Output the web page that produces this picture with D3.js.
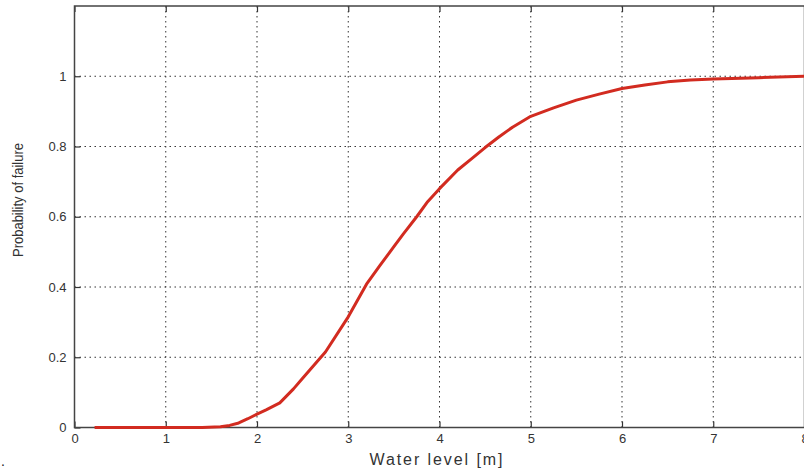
<!DOCTYPE html>
<html>
<head>
<meta charset="utf-8">
<script src="https://cdn.jsdelivr.net/npm/d3@7"></script>
<style>
  body { margin: 0; background: #fff; }
  svg { display: block; font-family: "Liberation Sans", Arial, sans-serif; }
</style>
</head>
<body>
<svg id="chart" width="804" height="470"></svg>
<script>
// data
const waterLevel = [0.22, 0.5, 1.0, 1.4, 1.6, 1.7, 1.8, 1.9, 2.0, 2.1, 2.25, 2.4, 2.5, 2.75, 3.0, 3.2, 3.35, 3.5, 3.6, 3.75, 3.87, 4.0, 4.2, 4.35, 4.5, 4.65, 4.8, 5.0, 5.25, 5.5, 5.75, 6.0, 6.25, 6.5, 6.75, 7.0, 7.5, 8.0];
const probFailure = [0, 0, 0, 0, 0.002, 0.006, 0.013, 0.025, 0.038, 0.05, 0.07, 0.11, 0.14, 0.215, 0.315, 0.408, 0.462, 0.515, 0.55, 0.60, 0.643, 0.68, 0.733, 0.765, 0.797, 0.827, 0.855, 0.886, 0.91, 0.932, 0.949, 0.965, 0.975, 0.984, 0.989, 0.992, 0.996, 1.0];
const xTicks = [0, 1, 2, 3, 4, 5, 6, 7, 8];
const yTicks = [0, 0.2, 0.4, 0.6, 0.8, 1];

const margin = {left: 74.5, top: 6};
const innerWidth = 730;
const innerHeight = 421.5;

document.addEventListener('DOMContentLoaded', function () {
    const svg = d3.select('#chart');
    const g = svg.append('g').attr('transform', 'translate(' + margin.left + ', ' + margin.top + ')');

    const xScale = d3.scaleLinear().domain([0, 8]).range([0, innerWidth]);
    const yScale = d3.scaleLinear().domain([0, 1.2]).range([innerHeight, 0]);

    // dotted grid
    g.selectAll('.vgrid')
        .data(xTicks.filter(d => d > 0 && d < 8))
        .enter()
        .append('line')
        .attr('x1', d => xScale(d)).attr('x2', d => xScale(d))
        .attr('y1', 0).attr('y2', innerHeight)
        .style('stroke', '#333')
        .style('stroke-width', 1)
        .style('stroke-dasharray', '1.5,3.5');

    g.selectAll('.hgrid')
        .data(yTicks.filter(d => d > 0))
        .enter()
        .append('line')
        .attr('x1', 0).attr('x2', innerWidth)
        .attr('y1', d => yScale(d)).attr('y2', d => yScale(d))
        .style('stroke', '#333')
        .style('stroke-width', 1)
        .style('stroke-dasharray', '1.5,3.5');

    // axes, ticks pointing inward
    const xAxis = d3.axisBottom(xScale).tickValues(xTicks).tickSize(-6).tickPadding(6).tickFormat(d3.format('d'));
    const xTop = d3.axisTop(xScale).tickValues(xTicks).tickSize(-6);
    const yAxis = d3.axisLeft(yScale).tickValues(yTicks).tickSize(-6).tickPadding(8).tickFormat(d => d === 0 || d === 1 ? d : d.toFixed(1));

    const gx = g.append('g').attr('transform', `translate(0, ${innerHeight})`).call(xAxis);
    const gt = g.append('g').call(xTop);
    const gy = g.append('g').call(yAxis);
    gt.selectAll('text').remove();

    [gx, gt, gy].forEach(a => {
        a.select('.domain').remove();
        a.selectAll('line').style('stroke', '#333').style('stroke-width', 1.2);
        a.selectAll('text').style('font-size', '13px').style('fill', '#333').style('font-family', '"Liberation Sans", Arial, sans-serif');
    });

    // box
    g.append('rect')
        .attr('x', 0).attr('y', 0)
        .attr('width', innerWidth).attr('height', innerHeight)
        .style('fill', 'none')
        .style('stroke', '#444')
        .style('stroke-width', 1.5);

    // the curve
    const line = d3.line()
        .x((d, i) => xScale(waterLevel[i]))
        .y(d => yScale(d));

    g.append('path')
        .datum(probFailure)
        .attr('d', line)
        .style('fill', 'none')
        .style('stroke', '#d22b20')
        .style('stroke-width', 3)
        .style('stroke-linejoin', 'round');

    // axis titles
    svg.append('text')
        .attr('x', 436)
        .attr('y', 465)
        .attr('text-anchor', 'middle')
        .attr('textLength', 133)
        .attr('lengthAdjust', 'spacing')
        .style('font-size', '16px')
        .style('fill', '#333')
        .text('Water level [m]');

    svg.append('text')
        .attr('transform', 'translate(23, 200) rotate(-90)')
        .attr('text-anchor', 'middle')
        .attr('textLength', 114)
        .attr('lengthAdjust', 'spacingAndGlyphs')
        .style('font-size', '14px')
        .style('fill', '#333')
        .text('Probability of failure');

    svg.append('text')
        .attr('x', 1)
        .attr('y', 466)
        .style('font-size', '14px')
        .style('fill', '#222')
        .text('.');
});
</script>
</body>
</html>
